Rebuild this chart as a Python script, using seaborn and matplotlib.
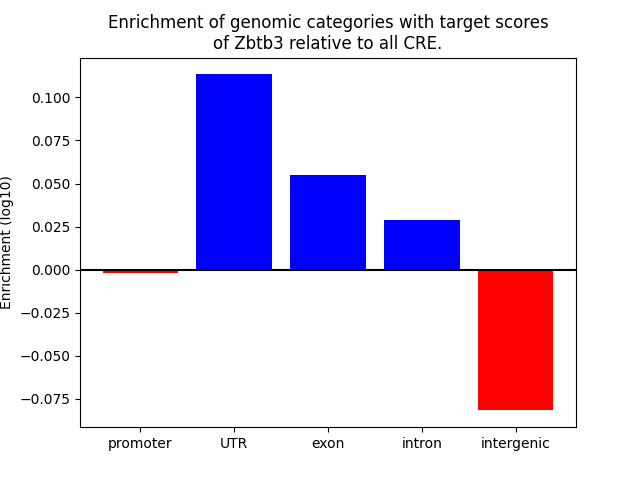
import matplotlib
matplotlib.use("Agg")
import matplotlib.pyplot as plt
import seaborn as sns
import pandas as pd

categories = ["promoter", "UTR", "exon", "intron", "intergenic"]
values = [-0.0019, 0.1134, 0.0547, 0.0291, -0.0818]
colors = ["red" if v < 0 else "blue" for v in values]

df = pd.DataFrame({"category": categories, "value": values})

fig, ax = plt.subplots(figsize=(6.4, 4.8), dpi=100)
sns.barplot(data=df, x="category", y="value", hue="category", palette=colors,
            legend=False, width=0.8, saturation=1, ax=ax)
ax.axhline(0, color="black")
ax.set_xlim(-0.64, 4.64)
ax.margins(y=0.05)
ax.set_xlabel("")
ax.set_ylabel("Enrichment (log10)")
ax.set_title("Enrichment of genomic categories with target scores\nof Zbtb3 relative to all CRE.")
fig.savefig("out.png", dpi=100)
